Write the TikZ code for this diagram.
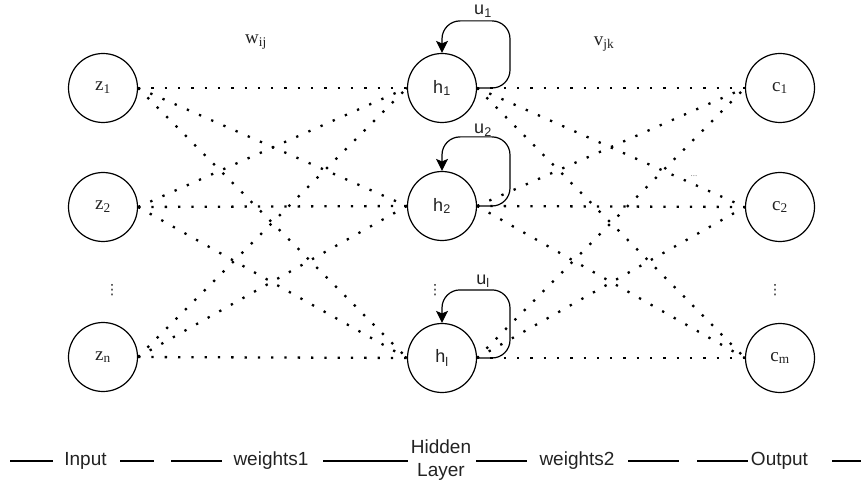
\documentclass[tikz,border=0pt]{standalone}
\usepackage{fontspec}
\setmainfont{Liberation Serif}
\setsansfont{Liberation Sans}
\newfontfamily\symfont{DejaVu Sans}
\usetikzlibrary{arrows.meta,calc}
\definecolor{txt}{HTML}{222222}
\tikzset{
  neuron/.style={circle,draw=black,line width=1.2pt,minimum size=69pt,inner sep=0pt,text=txt},
  serlab/.style={font=\fontsize{19}{21}\selectfont},
  sanlab/.style={font=\sffamily\fontsize{18}{20}\selectfont},
  wlab/.style={text=txt,font=\fontsize{19}{21}\selectfont,inner sep=0pt},
  ulab/.style={text=txt,font=\sffamily\fontsize{18}{20}\selectfont,inner sep=0pt},
  vdots/.style={text=txt,font=\symfont\fontsize{14}{16}\selectfont,inner sep=0pt},
  weight/.style={line width=2.3pt,line cap=butt,dash pattern=on 2.3pt off 11pt},
  selfloop/.style={line width=1.2pt,rounded corners=18pt,-{Stealth[length=12pt,width=12pt,inset=2.5pt]}},
  legtext/.style={text=txt,font=\sffamily\fontsize{19}{23}\selectfont,inner sep=0pt,align=center},
  legline/.style={line width=1.2pt}
}
\begin{document}
\begin{tikzpicture}[x=1pt,y=-1pt]
\useasboundingbox (0,0) rectangle (861,486);
% neurons
\node[neuron,serlab] (z1) at (103,88) {z\textsubscript{1}};
\node[neuron,serlab] (z2) at (103,207) {z\textsubscript{2}};
\node[neuron,serlab] (zn) at (103,357) {z\textsubscript{n}};
\node[neuron,sanlab] (h1) at (442,88) {h\textsubscript{1}};
\node[neuron,sanlab] (h2) at (442,206) {h\textsubscript{2}};
\node[neuron,sanlab] (hl) at (442,358) {h\textsubscript{l}};
\node[neuron,serlab] (c1) at (780,88) {c\textsubscript{1}};
\node[neuron,serlab] (c2) at (780,207) {c\textsubscript{2}};
\node[neuron,serlab] (cm) at (780,358) {c\textsubscript{m}};
% vertical dots
\node[vdots] (dz) at (112,290) {⋮};
\node[vdots] (dh) at (435,290) {⋮};
\node[vdots] (dc) at (775,290) {⋮};
\node[text=gray,font=\fontsize{9}{10}\selectfont,inner sep=0pt] (dd) at (694,176) {...};
% weights
\foreach \a in {z1,z2,zn}{
  \foreach \b in {h1,h2,hl}{
    \draw[weight] (\a.east) -- (\b.west);
  }
}
\foreach \a in {h1,h2,hl}{
  \foreach \b in {c1,c2,cm}{
    \draw[weight] (\a.east) -- (\b.west);
  }
}
% labels
\node[wlab] (w) at (256,42) {w\textsubscript{ij}};
\node[wlab] (v) at (604,44) {v\textsubscript{jk}};
% self loops
\draw[selfloop] (h1.east) -| ($(h1.north)+(68,-32)$) -| (h1.north);
\draw[selfloop] (h2.east) -| ($(h2.north)+(68,-34)$) -| (h2.north);
\draw[selfloop] (hl.east) -| ($(hl.north)+(68,-33)$) -| (hl.north);
\node[ulab] (u1) at (483,11) {u\textsubscript{1}};
\node[ulab] (u2) at (483,130) {u\textsubscript{2}};
\node[ulab] (ul) at (483,281) {u\textsubscript{l}};
% legend
\node[legtext] (tin) at (85.5,461) {Input};
\node[legtext] (tw1) at (271,461) {weights1};
\node[legtext] (thl) at (441,460) {Hidden\\Layer};
\node[legtext] (tw2) at (577,461) {weights2};
\node[legtext] (tout) at (779.5,461) {Output};
\coordinate (a1) at (10,461); \coordinate (a2) at (53,461);
\coordinate (b1) at (120,461); \coordinate (b2) at (154,461);
\coordinate (c1l) at (171,461); \coordinate (c2l) at (222,461);
\coordinate (d1) at (323,461); \coordinate (d2) at (408,461);
\coordinate (e1) at (476,461); \coordinate (e2) at (527,461);
\coordinate (f1) at (628,461); \coordinate (f2) at (679,461);
\coordinate (g1) at (697,461); \coordinate (g2) at (748,461);
\coordinate (k1) at (832,461); \coordinate (k2) at (861,461);
\draw[legline] (a1) -- (a2);
\draw[legline] (b1) -- (b2);
\draw[legline] (c1l) -- (c2l);
\draw[legline] (d1) -- (d2);
\draw[legline] (e1) -- (e2);
\draw[legline] (f1) -- (f2);
\draw[legline] (g1) -- (g2);
\draw[legline] (k1) -- (k2);
\end{tikzpicture}
\end{document}
